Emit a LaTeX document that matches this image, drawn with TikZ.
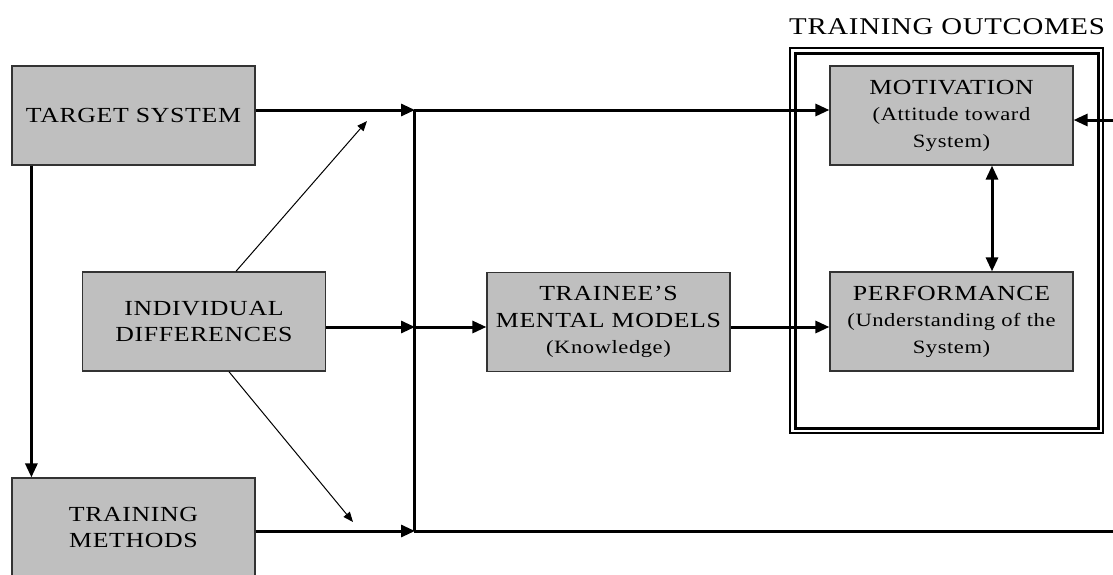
\documentclass[tikz,border=0pt]{standalone}
\usepackage{fontspec}
\setmainfont{Liberation Serif}[FakeStretch=1.2,LetterSpace=3]
\usetikzlibrary{arrows.meta}
\newcommand{\paren}[1]{{\fontsize{18.8}{26.5}\selectfont #1}}
\begin{document}
\begin{tikzpicture}[x=1pt,y=-1pt,
  box/.style={draw=black!80,line width=1.2pt,fill=black!25,align=center,inner sep=0pt,
    minimum width=243pt,minimum height=99pt,font=\fontsize{21.5}{26.5}\selectfont,text=black},
  arr/.style={line width=3pt,-{Triangle[length=14pt,width=12pt]}},
  darr/.style={line width=3pt,{Triangle[length=14pt,width=12pt]}-{Triangle[length=14pt,width=12pt]}},
  thick line/.style={line width=3pt},
  thinarr/.style={line width=1pt,-{Triangle[length=10pt,width=8pt]}}]
\useasboundingbox (0,0) rectangle (1113,574);
\fill[white] (0,0) rectangle (1113,574);
\node[box] (ts) at (133.5,115.5) {TARGET SYSTEM};
\node[box] (id) at (204,321.5) {INDIVIDUAL\\DIFFERENCES};
\node[box] (tm) at (133.5,527.5) {TRAINING\\METHODS};
\node[box] (mm) at (608.5,322) {TRAINEE'S\\MENTAL MODELS\\\paren{(Knowledge)}};
\node[box] (mot) at (951.5,115.5) {MOTIVATION\\\paren{(Attitude toward}\\\paren{System)}};
\node[box] (perf) at (951.5,321.5) {PERFORMANCE\\\paren{(Understanding of the}\\\paren{System)}};
\node[font=\fontsize{24}{28}\selectfont] (title) at (947,27) {TRAINING OUTCOMES};
\draw[line width=1.4pt] (790,48) rectangle (1103,433);
\draw[line width=3pt] (795,53) rectangle (1098,428);
\coordinate (J1) at (414,110);
\coordinate (J3) at (414,327);
\coordinate (J2) at (414,531);
\coordinate (E1) at (1113,120);
\coordinate (E2) at (1113,531);
\coordinate (t1) at (367,121);
\coordinate (t2) at (353,522);
\draw[thick line] (J1) -- (J2);
\draw[arr] (ts.east |- J1) -- ([xshift=1pt]J1);
\draw[arr] (id.east |- J3) -- ([xshift=1pt]J3);
\draw[arr] (tm.east |- J2) -- ([xshift=1pt]J2);
\draw[arr] (J1) -- (mot.west |- J1);
\draw[arr] (J3) -- (mm.west |- J3);
\draw[arr] (mm.east |- J3) -- (perf.west |- J3);
\draw[thick line] (J2) -- (E2);
\draw[arr] (E1) -- (mot.east |- E1);
\draw[darr] ([xshift=40.5pt]mot.south) -- ([xshift=40.5pt]perf.north);
\draw[arr] ([xshift=20pt]ts.south west) -- ([xshift=20pt]tm.north west);
\draw[thinarr] ([xshift=154pt]id.north west) -- (t1);
\draw[thinarr] ([xshift=147pt]id.south west) -- (t2);
\end{tikzpicture}
\end{document}
